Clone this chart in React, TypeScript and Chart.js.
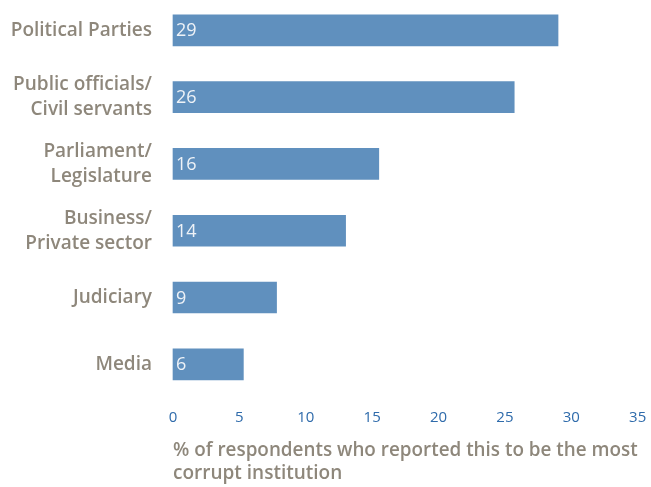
import React, { useEffect, useRef } from "react";
import { Chart, registerables } from "chart.js";

Chart.register(...registerables);

const categories: (string | string[])[] = [
  "Political Parties",
  ["Public officials/", "Civil servants"],
  ["Parliament/", "Legislature"],
  ["Business/", "Private sector"],
  "Judiciary",
  "Media",
];
// Printed values inside the bars
const printedValues: number[] = [29, 26, 16, 14, 9, 6];
const barLengths: number[] = [29, 25.7, 15.5, 13.0, 7.8, 5.3];
const xTicks: number[] = [0, 5, 10, 15, 20, 25, 30, 35];
const axisTitle: string[] = [
  "% of respondents who reported this to be the most",
  "corrupt institution",
];

const FONT = "'Open Sans', sans-serif";
const LABEL_COLOR = "#8e877b";
const TICK_COLOR = "#2f6bab";
const BAR_COLOR = "#6090be";

const valueLabels = {
  id: "valueLabels",
  afterDatasetsDraw(chart: any) {
    const ctx = chart.ctx;
    const meta = chart.getDatasetMeta(0);
    ctx.save();
    ctx.fillStyle = "#eef2f7";
    ctx.font = `18px ${FONT}`;
    ctx.textAlign = "left";
    ctx.textBaseline = "middle";
    meta.data.forEach((bar: any, i: number) => {
      ctx.fillText(String(printedValues[i]), bar.base + 3, bar.y + 1);
    });
    ctx.restore();
  },
};

export default function App() {
  const ref = useRef<HTMLCanvasElement | null>(null);
  useEffect(() => {
    if (!ref.current) return;
    const chart = new Chart(ref.current, {
      type: "bar",
      data: {
        labels: categories,
        datasets: [
          {
            data: barLengths,
            backgroundColor: BAR_COLOR,
            borderWidth: 0,
            barThickness: 31,
            clip: false,
          } as any,
        ],
      },
      options: {
        indexAxis: "y",
        animation: false,
        responsive: false,
        maintainAspectRatio: false,
        layout: { padding: { top: 30.3, right: 13.3, bottom: 2.1, left: 0 } },
        plugins: {
          legend: { display: false },
          tooltip: { enabled: false },
        },
        scales: {
          y: {
            offset: false,
            grid: { display: false, drawTicks: true, tickLength: 21 },
            border: { display: false },
            ticks: {
              color: LABEL_COLOR,
              padding: 0,
              font: { family: FONT, size: 19, weight: "600", lineHeight: 1.316 },
            },
            afterFit(scale: any) {
              scale.width = 173;
            },
          },
          x: {
            min: xTicks[0],
            max: xTicks[xTicks.length - 1],
            grid: { display: false, drawTicks: true, tickLength: 41.7 },
            border: { display: false },
            afterBuildTicks(scale: any) {
              scale.ticks = xTicks.map((v) => ({ value: v }));
            },
            ticks: {
              color: TICK_COLOR,
              padding: 3,
              font: { family: FONT, size: 15, lineHeight: 1.2 },
            },
            title: {
              display: true,
              text: axisTitle,
              align: "start",
              color: LABEL_COLOR,
              padding: { top: 8.9, bottom: 0 },
              font: { family: FONT, size: 19, weight: "600", lineHeight: 1.21 },
            },
          },
        },
      },
      plugins: [valueLabels],
    });
    return () => chart.destroy();
  }, []);
  return (
    <div style={{ position: "absolute", left: 0, top: 0, width: 651, height: 487 }}>
      <canvas ref={ref} width={651} height={487} style={{ width: 651, height: 487 }} />
    </div>
  );
}
